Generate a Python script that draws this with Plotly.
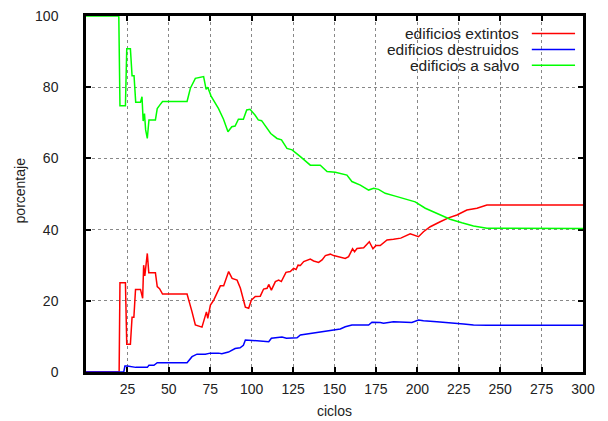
import plotly.graph_objects as go

# ---- data ----
red_x = [0, 20, 20.5, 23.8, 24.6, 26.8, 27.8, 28.9, 29.9, 32.9, 34.2, 34.8, 35.5, 36.2, 37, 37.9, 41.9, 43, 44.4, 46.2,
         61, 64, 66, 70, 72.7, 73.5, 75.1, 77.1, 79.1, 81.1, 83.1, 86.1, 88.2, 91.2, 93.2, 95.2, 96.2, 98.2, 99.8,
         102.2, 105.2, 107.2, 109.3, 110.3, 111.9, 114.3, 116.3, 117.9, 120.7, 123.3, 125.3, 126.8, 128, 129.4, 131.4,
         135.4, 137.4, 140.4, 142.5, 144.5, 147.5, 149.5, 152.1, 154.5, 156.5, 158.5, 160.9, 162.1, 163.6, 167.6, 171,
         173.2, 175, 177.6, 181.7, 185.6, 190, 195.7, 200.7, 203.7, 207.8, 213.8, 218.8,
         223.9, 229.9, 236, 242, 300]
red_y = [0, 0, 25.1, 25.1, 7.8, 7.8, 15.4, 15.4, 23.2, 23.2, 20.7, 30, 27, 30.5, 33.3, 27.9, 27.9, 24, 23.4, 21.9,
         21.9, 16.9, 13.2, 12.6, 16.9, 15.1, 18.8, 20.2, 22.1, 24.2, 24.2, 28.2, 26.3, 25.8, 23.5, 20.2, 18.2, 17.9, 20.2,
         21.2, 21.3, 23.3, 23.5, 24.6, 23, 25.4, 25.8, 25.4, 28, 28.2, 29.1, 28.8, 30, 29.9, 31,
         31.7, 31.2, 30.8, 31.5, 32.7, 33.1, 32.7, 32.4, 32.2, 31.9, 32.4, 34.6, 33.8, 34.7, 34.9, 36.6,
         34.6, 35.5, 35.5, 37.1, 37.3, 37.6, 38.8, 38, 39.4, 40.8, 42.2, 43.3,
         44.1, 45.5, 46, 46.9, 46.9]

blue_x = [0, 22.8, 23.5, 25, 30, 37, 38, 41, 43, 61, 64, 67, 72, 75, 80, 82, 86, 88, 90, 93, 95, 96.2, 102.2, 110.3,
          111.9, 118.3, 121, 127.4, 129.4, 136.4, 142.5, 149.5, 153.5, 156.5, 160.5, 170.6, 172.6, 177.6, 179.6,
          185.6, 191.7, 196.7, 200.7, 203.7, 211.8, 219.8, 227.9, 233.9, 242, 300]
blue_y = [0, 0, 1.7, 1.7, 1.3, 1.3, 1.9, 1.9, 2.6, 2.6, 4.3, 5, 5, 5.3, 5.3, 5.1, 5.6, 6, 6.6, 6.8, 7.5, 9, 8.7, 8.5,
          9.5, 9.8, 9.5, 9.6, 10.4, 10.9, 11.5, 11.8, 12.1, 12.7, 13.2, 13.2, 14, 13.9, 13.7,
          14.1, 14.1, 13.9, 14.6, 14.4, 14.1, 13.9, 13.5, 13.2, 13.1, 13.1]

green_x = [0, 19.8, 20.5, 23.8, 24.6, 26.8, 27.8, 29, 30, 32.9, 33.8, 34.5, 35.3, 36, 37, 38, 41.9, 43, 44.4, 46.2,
           61, 63, 66, 71, 72.5, 73.5, 75.5, 77, 80, 83, 85.7, 88, 90, 92, 95, 97, 99, 102, 104, 106, 109, 111.5,
           115.3, 118, 121.3, 124.4, 129.4, 135.4, 141.4, 145.5, 150.5, 157.5, 160.5, 165.6, 170.6, 173.6, 176.6,
           180.6, 186.7, 192.7, 198.7, 204.8, 211.8, 219.8, 226.9, 233.9, 242, 300]
green_y = [100, 100, 74.8, 74.8, 90.8, 90.8, 83.2, 83.2, 75.8, 75.8, 77.3, 70.5, 72.6, 68, 65.6, 70.8, 70.8, 74, 74.9, 76,
           76, 79.7, 82.5, 83, 79.4, 80, 77.5, 76.4, 74, 71, 67.5, 68.9, 69.1, 71, 71, 73.6, 73.8, 72.2, 70.8, 70.6, 68.7, 67,
           65.6, 65.2, 62.8, 62.4, 60.5, 58.1, 58.1, 56.3, 56.1, 55.3, 53.5, 52.5, 51.1, 51.6, 51.3,
           50.2, 49.4, 48.5, 47.8, 46, 44.6, 42.9, 41.9, 41, 40.4, 40.3]

series_names = ["edificios extintos", "edificios destruidos", "edificios a salvo"]
series_colors = ["#ff0000", "#0000ff", "#00ff00"]
x_ticks = [25, 50, 75, 100, 125, 150, 175, 200, 225, 250, 275, 300]
y_ticks = [0, 20, 40, 60, 80, 100]
x_title = "ciclos"
y_title = "porcentaje"

FONT = "Liberation Sans, Arial, sans-serif"
TXT = "#222"

fig = go.Figure()
for xs, ys, name, col in zip([red_x, blue_x, green_x], [red_y, blue_y, green_y], series_names, series_colors):
    fig.add_trace(go.Scatter(x=xs, y=ys, mode="lines", name=name,
                             line=dict(color=col, width=1.5), showlegend=False, cliponaxis=False))

# gnuplot-style legend: right-aligned text, sample line on the right
leg_y = [0.951, 0.906, 0.862]
for name, col, yy in zip(series_names, series_colors, leg_y):
    fig.add_annotation(x=0.876, y=yy, xref="paper", yref="paper", text=name, showarrow=False,
                       xanchor="right", yanchor="middle", font=dict(family=FONT, size=15.5, color=TXT))
    fig.add_shape(type="line", xref="paper", yref="paper", x0=0.897, x1=0.984, y0=yy, y1=yy,
                  line=dict(color=col, width=1.5))

# axis titles
fig.add_annotation(x=0.5, y=-0.1096, xref="paper", yref="paper", text=x_title, showarrow=False,
                   xanchor="center", yanchor="middle", font=dict(family=FONT, size=14, color=TXT))
fig.add_annotation(x=-0.1328, y=0.51, xref="paper", yref="paper", text=y_title, showarrow=False, textangle=-90,
                   xanchor="center", yanchor="middle", font=dict(family=FONT, size=14, color=TXT))

fig.update_layout(
    width=608, height=421,
    margin=dict(l=86, r=25, t=16, b=49),
    paper_bgcolor="white", plot_bgcolor="white",
    font=dict(family=FONT, size=14, color=TXT),
    showlegend=False,
)
common = dict(showgrid=True, gridcolor="#888", griddash="dot", gridwidth=1,
              showline=True, linecolor="black", linewidth=2.5, mirror="ticks",
              ticks="inside", ticklen=5, tickwidth=2, tickcolor="black",
              zeroline=False, automargin=False, layer="below traces")
fig.update_xaxes(range=[0, 300], tickvals=x_ticks, ticktext=[str(v) for v in x_ticks],
                 ticklabelstandoff=2, **common)
fig.update_yaxes(range=[0, 100], tickvals=y_ticks, ticktext=[str(v) for v in y_ticks],
                 ticklabelstandoff=22, **common)

fig.write_html("out.html")
